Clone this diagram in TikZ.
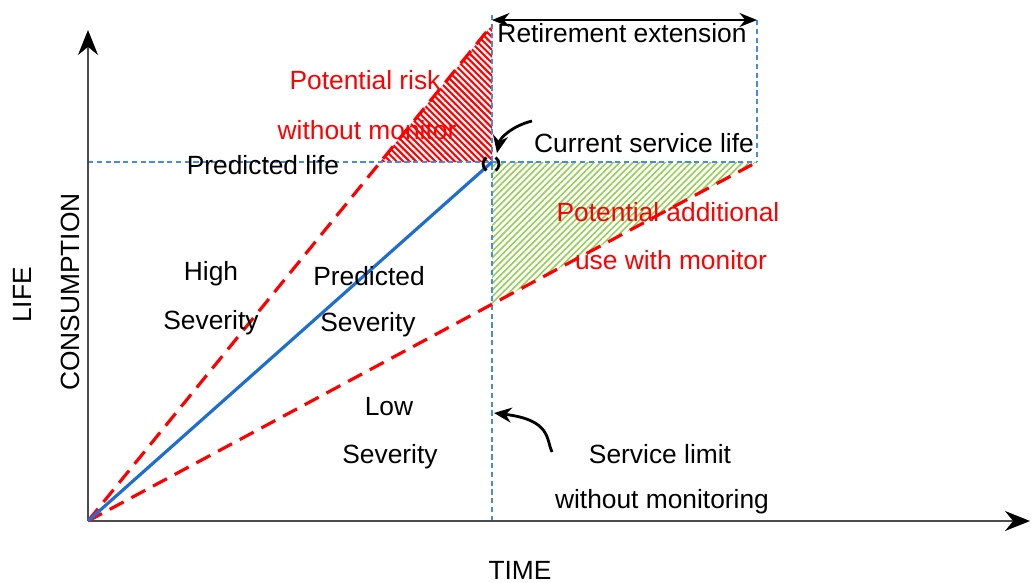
\documentclass[tikz,border=0pt]{standalone}
\usepackage{fontspec}
\setmainfont{Liberation Sans}
\usepackage{tikz}
\usetikzlibrary{arrows.meta,positioning,patterns.meta}

\definecolor{lifeblue}{RGB}{30,110,210}
\definecolor{gridblue}{RGB}{70,140,220}
\definecolor{hatchgreen}{RGB}{146,208,80}
\definecolor{riskred}{RGB}{255,0,0}

\tikzset{
    lbl/.style={font=\fontsize{15}{18}\selectfont, inner sep=1pt},
    redlbl/.style={lbl, text=riskred},
    axisline/.style={draw=black!70, line width=1.1pt, -{Stealth[length=5mm,width=4mm,color=black]}},
    guideline/.style={draw=gridblue, line width=0.6pt, dash pattern=on 3pt off 2pt},
    boundline/.style={draw=riskred, line width=1.8pt, dash pattern=on 9pt off 5pt},
    curvearrow/.style={draw=black, line width=1.6pt, -{Stealth[length=3.5mm,width=3mm]}}
}

\begin{document}
\begin{tikzpicture}[x=0.02cm,y=-0.02cm]
        \useasboundingbox (0,0) rectangle (1035,582);

        \coordinate (o) at (88,521);
        \coordinate (ytop) at (88,30);
        \coordinate (xend) at (1030,521);
        \coordinate (now) at (492,162);
        \coordinate (nowtop) at (492,15);
        \coordinate (nowbot) at (492,521);
        \coordinate (hi) at (492,25);
        \coordinate (hicut) at (380,162);
        \coordinate (ext) at (757,162);
        \coordinate (exttop) at (757,20);
        \coordinate (lo) at (492,304);
        \coordinate (lifel) at (88,162);
        \coordinate (mark) at (491,164);

        % hatched areas
        \fill[riskred] (hicut) -- (hi) -- (now) -- cycle;
        \fill[pattern={Lines[angle=-45,distance=2.6pt,line width=1.25pt]}, pattern color=white] (hicut) -- (hi) -- (now) -- cycle;
        \fill[pattern={Lines[angle=45,distance=2.6pt,line width=0.9pt]}, pattern color=hatchgreen] (now) -- (ext) -- (lo) -- cycle;

        % guide lines
        \draw[guideline] (nowtop) -- (nowbot);
        \draw[guideline] (lifel) -- (ext);
        \draw[guideline] (exttop) -- (ext);

        % axes
        \draw[axisline] (o) -- (ytop);
        \draw[axisline] (o) -- (xend);

        % severity lines
        \draw[boundline] (o) -- (hi);
        \draw[boundline] (o) -- (ext);
        \draw[draw=lifeblue, line width=1.8pt] (o) -- (now);

        \draw[black, line width=0.8pt, {Stealth[length=3.5mm,width=2.8mm]}-{Stealth[length=3.5mm,width=2.8mm]}] (492,20) -- (exttop);

        % marks round the current point
        \draw[black, line width=1.6pt] (mark) ++(125:8) arc (125:235:8);
        \draw[black, line width=1.6pt] (mark) ++(-55:8) arc (-55:55:8);

        \node[lbl] (retire) at (622,33) {Retirement extension};
        \node[redlbl] (risk1) at (365,80) {Potential risk};
        \node[redlbl] (risk2) at (367,130) {without monitor};
        \node[lbl] (predlife) at (263,165) {Predicted life};
        \node[lbl] (current) at (644,143) {Current service life};
        \node[redlbl] (add1) at (668,212) {Potential additional};
        \node[redlbl] (add2) at (671,260) {use with monitor};
        \node[lbl] (high1) at (211,274) {High};
        \node[lbl] (high2) at (211,323) {Severity};
        \node[lbl] (pred1) at (369,276) {Predicted};
        \node[lbl] (pred2) at (368,325) {Severity};
        \node[lbl] (low1) at (389,407) {Low};
        \node[lbl] (low2) at (390,457) {Severity};
        \node[lbl] (limit1) at (660,454) {Service limit};
        \node[lbl] (limit2) at (662,502) {without monitoring};
        \node[lbl] (time) at (520,570) {TIME};
        \node[lbl, rotate=90] (life) at (22,295) {LIFE};
        \node[lbl, rotate=90] (consume) at (70,292) {CONSUMPTION};

        \coordinate (tipa) at (497,153);
        \coordinate (tipb) at (494,413);
        \draw[curvearrow] (532,121) .. controls (512,126) and (500,138) .. (tipa);
        \draw[curvearrow] (552,452) .. controls (546,440) and (552,420) .. (tipb);
\end{tikzpicture}
\end{document}
